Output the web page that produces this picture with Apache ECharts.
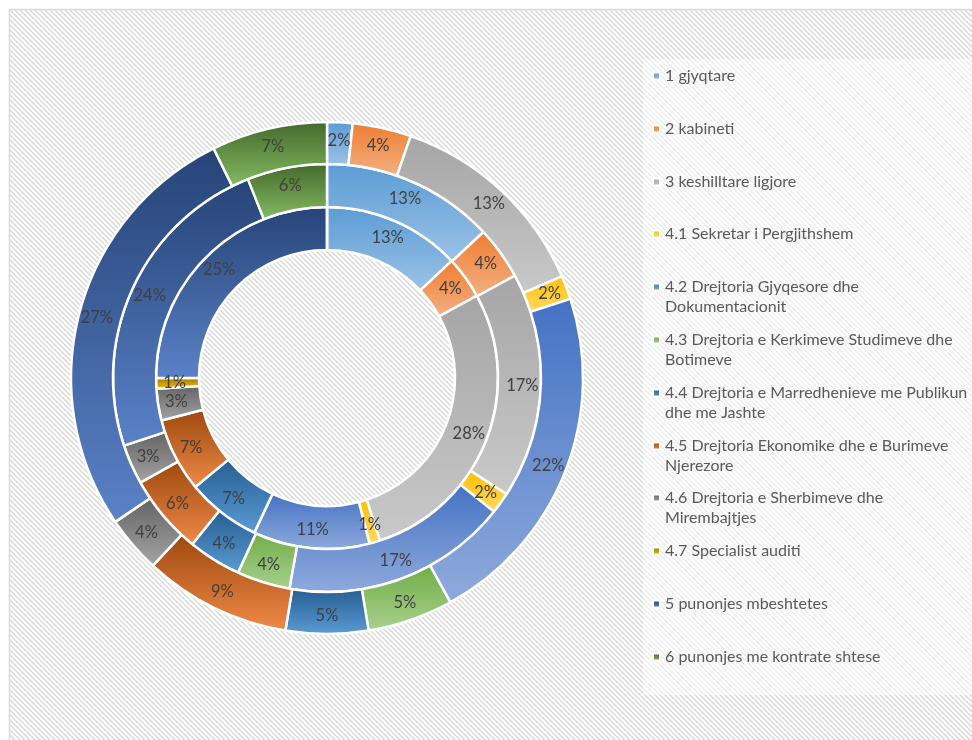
<!DOCTYPE html>
<html lang="sq">
<head>
    <meta charset="UTF-8">
    <title>Struktura e punonjesve</title>
    <script type="text/javascript" src="https://cdn.jsdelivr.net/npm/echarts@6/dist/echarts.min.js"></script>
    <style>
        html, body { margin: 0; padding: 0; background: #fff; }
    </style>
</head>
<body>
<div id="main" style="width: 972px;height:740px;"></div>

<script type="text/javascript">
    // kategorite (renditja e legjendes)
    var categories = [
        '1 gjyqtare',
        '2 kabineti',
        '3 keshilltare ligjore',
        '4.1 Sekretar i Pergjithshem',
        '4.2 Drejtoria Gjyqesore dhe Dokumentacionit',
        '4.3 Drejtoria e Kerkimeve Studimeve dhe Botimeve',
        '4.4 Drejtoria e Marredhenieve me Publikun dhe me Jashte',
        '4.5 Drejtoria Ekonomike dhe e Burimeve Njerezore',
        '4.6 Drejtoria e Sherbimeve dhe Mirembajtjes',
        '4.7 Specialist auditi',
        '5 punonjes mbeshtetes',
        '6 punonjes me kontrate shtese'
    ];
    // tekstet e legjendes me nderprerjet e rreshtave
    var legendLabels = [
        '1 gjyqtare',
        '2 kabineti',
        '3 keshilltare ligjore',
        '4.1 Sekretar i Pergjithshem',
        '4.2 Drejtoria Gjyqesore dhe\nDokumentacionit',
        '4.3 Drejtoria e Kerkimeve Studimeve dhe\nBotimeve',
        '4.4 Drejtoria e Marredhenieve me Publikun\ndhe me Jashte',
        '4.5 Drejtoria Ekonomike dhe e Burimeve\nNjerezore',
        '4.6 Drejtoria e Sherbimeve dhe\nMirembajtjes',
        '4.7 Specialist auditi',
        '5 punonjes mbeshtetes',
        '6 punonjes me kontrate shtese'
    ];
    // perqindjet per cdo unaze (te lexuara nga harqet)
    var innerRing  = [13, 4, 28, 1, 11, 0, 7, 7, 3, 1, 25, 0];
    var middleRing = [13, 4, 17, 1.6, 17, 4, 4, 6, 3, 0, 24, 6];
    var outerRing  = [1.6, 3.7, 13.2, 1.5, 22, 5.4, 5.2, 9.3, 3.6, 0, 27.2, 7.3];

    // ngjyrat (lart -> poshte, si gradienti i Excel)
    var palette = [
        ['#5b9bd5', '#9dc3e6'],
        ['#ed7d31', '#f4b183'],
        ['#a5a5a5', '#c9c9c9'],
        ['#ffc000', '#ffd966'],
        ['#4472c4', '#8faadc'],
        ['#70ad47', '#a9d18e'],
        ['#255e91', '#5b9bd5'],
        ['#9e480e', '#f08a47'],
        ['#636363', '#a5a5a5'],
        ['#997300', '#ffc000'],
        ['#264478', '#5b82c8'],
        ['#43682b', '#84bc62']
    ];

    function grad(i) {
        return {
            type: 'linear', x: 0, y: 0, x2: 0, y2: 1,
            colorStops: [
                {offset: 0, color: palette[i][0]},
                {offset: 1, color: palette[i][1]}
            ]
        };
    }

    function ringData(values) {
        return values.map(function (v, i) {
            return {name: categories[i], value: v, itemStyle: {color: grad(i)}};
        });
    }

    // sfondi me vija diagonale
    var tile = document.createElement('canvas');
    tile.width = 5;
    tile.height = 5;
    var ctx = tile.getContext('2d');
    ctx.fillStyle = '#ffffff';
    ctx.fillRect(0, 0, 5, 5);
    ctx.strokeStyle = '#d8d8d8';
    ctx.lineWidth = 1.4;
    [-5, 0, 5].forEach(function (o) {
        ctx.beginPath();
        ctx.moveTo(o - 1, -1);
        ctx.lineTo(o + 6, 6);
        ctx.stroke();
    });

    function ring(name, values, r0, r1) {
        return {
            name: name,
            type: 'pie',
            center: [327, 378],
            radius: [r0, r1],
            startAngle: 90,
            clockwise: true,
            avoidLabelOverlap: false,
            silent: true,
            itemStyle: {borderColor: '#ffffff', borderWidth: 2.5},
            label: {
                show: true,
                position: 'inside',
                fontFamily: 'Lato',
                fontSize: 16.5,
                color: '#404040',
                formatter: function (p) {
                    return p.value > 0 ? Math.round(p.percent) + '%' : '';
                }
            },
            labelLine: {show: false},
            emphasis: {disabled: true},
            data: ringData(values)
        };
    }

    // nje legjende per cdo kategori, me rreshtin e pare ne lartesine e ikones
    var legends = categories.map(function (c, i) {
        var twoLines = legendLabels[i].indexOf('\n') >= 0;
        var y = 76 + i * 52.8;
        return {
            data: [c],
            orient: 'vertical',
            left: 652,
            top: Math.round(y - (twoLines ? 30 : 10)),
            padding: 0,
            itemWidth: 7,
            itemHeight: 7,
            itemGap: 0,
            icon: 'rect',
            selectedMode: false,
            formatter: function () {
                return twoLines ? '\n' + legendLabels[i] : legendLabels[i];
            },
            textStyle: {
                fontFamily: 'Lato',
                fontSize: 16,
                lineHeight: 20,
                color: '#595959'
            }
        };
    });

    var myChart = echarts.init(document.getElementById('main'));
    var option = {
        backgroundColor: '#ffffff',
        animation: false,
        graphic: [
            {
                type: 'rect',
                z: -10,
                shape: {x: 9.5, y: 9.5, width: 970, height: 740},
                style: {fill: {image: tile, repeat: 'repeat'}, stroke: '#d9d9d9', lineWidth: 1.5}
            },
            {
                type: 'rect',
                z: -9,
                shape: {x: 643, y: 59, width: 335, height: 636},
                style: {fill: 'rgba(255,255,255,0.55)'}
            }
        ],
        legend: legends,
        series: [
            ring('inner', innerRing, 128, 171),
            ring('middle', middleRing, 171, 214),
            ring('outer', outerRing, 214, 256)
        ]
    };
    myChart.setOption(option);
</script>
</body>
</html>
